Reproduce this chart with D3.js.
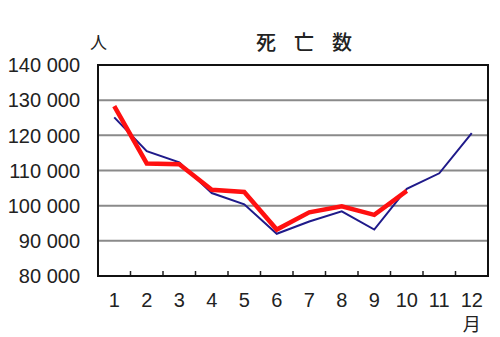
<!DOCTYPE html>
<html>
<head>
<meta charset="utf-8">
<script src="https://cdn.jsdelivr.net/npm/d3@7"></script>
<style>
  body { margin: 0; background: #fff; }
  svg text { font-family: "Liberation Sans", Arial, sans-serif; fill: #222; }
  .cjk { font-family: "Noto Sans CJK JP", sans-serif; }
</style>
</head>
<body>
<div class="js-chart"></div>
<script>
(function() {
  'use strict';

  /* ---- data ---- */
  var months = ['1', '2', '3', '4', '5', '6', '7', '8', '9', '10', '11', '12'];
  var yTicks = [80000, 90000, 100000, 110000, 120000, 130000, 140000];
  var deathsRed = [128300, 112000, 111800, 104500, 103900, 93200, 98100, 99800, 97400, 104200];
  var deathsBlue = [125100, 115500, 112300, 103600, 100400, 92000, 95500, 98400, 93200, 104800, 109200, 120600];
  var titleChars = ['死', '亡', '数'];

  /* ---- layout ---- */
  var width = 500;
  var height = 337;
  var plot = { left: 98, right: 488, top: 65, bottom: 276 };

  var svg = d3.select('.js-chart')
    .append('svg')
    .attr('width', width)
    .attr('height', height);

  var x = d3.scaleBand()
    .domain(months)
    .range([plot.left, plot.right]);

  var y = d3.scaleLinear()
    .domain([80000, 140000])
    .range([plot.bottom, plot.top]);

  var fmt = function(v) { return d3.format(',')(v).replace(',', ' '); };

  /* ---- gridlines ---- */
  svg.append('g')
    .selectAll('line')
    .data(yTicks.slice(1, -1))
    .join('line')
    .attr('x1', plot.left)
    .attr('x2', plot.right)
    .attr('y1', function(d) { return y(d); })
    .attr('y2', function(d) { return y(d); })
    .attr('stroke', '#8a8a8a')
    .attr('stroke-width', 2);

  /* ---- y axis labels ---- */
  svg.append('g')
    .selectAll('text')
    .data(yTicks)
    .join('text')
    .attr('x', 80)
    .attr('y', function(d) { return y(d); })
    .attr('dy', '0.36em')
    .attr('text-anchor', 'end')
    .attr('font-size', 20)
    .text(fmt);

  /* ---- bottom ticks (category boundaries, pointing up) ---- */
  var step = x.step();
  svg.append('g')
    .selectAll('line')
    .data(months.slice(1))
    .join('line')
    .attr('x1', function(d) { return x(d); })
    .attr('x2', function(d) { return x(d); })
    .attr('y1', plot.bottom)
    .attr('y2', plot.bottom - 5)
    .attr('stroke', '#222')
    .attr('stroke-width', 1.5);

  /* ---- x labels ---- */
  svg.append('g')
    .selectAll('text')
    .data(months)
    .join('text')
    .attr('x', function(d) { return x(d) + step / 2; })
    .attr('y', 307)
    .attr('text-anchor', 'middle')
    .attr('font-size', 20)
    .text(function(d) { return d; });

  /* ---- plot frame ---- */
  svg.append('rect')
    .attr('x', plot.left)
    .attr('y', plot.top)
    .attr('width', plot.right - plot.left)
    .attr('height', plot.bottom - plot.top)
    .attr('fill', 'none')
    .attr('stroke', '#111')
    .attr('stroke-width', 2);

  /* ---- lines ---- */
  var line = d3.line()
    .x(function(d, i) { return x(months[i]) + step / 2; })
    .y(function(d) { return y(d); });

  svg.append('path')
    .datum(deathsBlue)
    .attr('d', line)
    .attr('fill', 'none')
    .attr('stroke', '#1f1a8a')
    .attr('stroke-width', 2);

  svg.append('path')
    .datum(deathsRed)
    .attr('d', line)
    .attr('fill', 'none')
    .attr('stroke', '#ff1010')
    .attr('stroke-width', 4.5)
    .attr('stroke-linejoin', 'miter');

  /* ---- titles and units ---- */
  svg.append('g')
    .selectAll('text')
    .data(titleChars)
    .join('text')
    .attr('class', 'cjk')
    .attr('x', function(d, i) { return 266 + i * 38; })
    .attr('y', 50)
    .attr('text-anchor', 'middle')
    .attr('font-size', 20)
    .attr('font-weight', 500)
    .text(function(d) { return d; });

  svg.append('text')
    .attr('class', 'cjk')
    .attr('x', 90)
    .attr('y', 49)
    .attr('font-size', 17)
    .text('人');

  svg.append('text')
    .attr('class', 'cjk')
    .attr('x', x('12') + step / 2)
    .attr('y', 331)
    .attr('text-anchor', 'middle')
    .attr('font-size', 18)
    .text('月');
})();
</script>
</body>
</html>
